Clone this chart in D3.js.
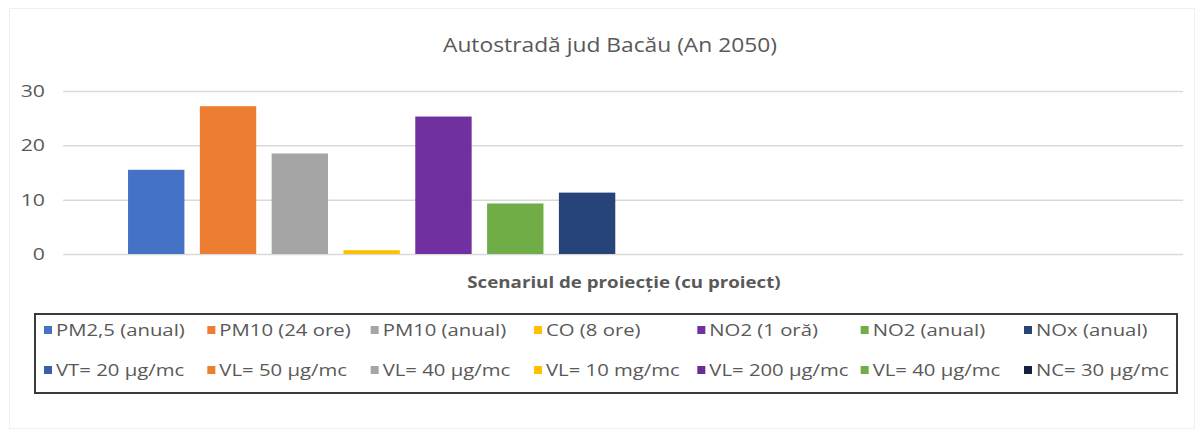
<!DOCTYPE html>
<html>
<head>
<meta charset="utf-8">
<script src="https://cdn.jsdelivr.net/npm/d3@7"></script>
<style>
    body { margin: 0; background: #fff; }
    text { font-family: "Open Sans", sans-serif; fill: #595959; }
</style>
</head>
<body>
<div id="chart"></div>
<script>
// date
var title = 'Autostradă jud  Bacău (An 2050)';
var categories = ['Scenariul de proiecție (cu proiect)'];
var pollutants = ['PM2,5 (anual)', 'PM10 (24 ore)', 'PM10 (anual)', 'CO (8 ore)', 'NO2 (1 oră)', 'NO2 (anual)', 'NOx (anual)'];
var limits = ['VT= 20 µg/mc', 'VL= 50 µg/mc', 'VL= 40 µg/mc', 'VL= 10 mg/mc', 'VL= 200 µg/mc', 'VL= 40 µg/mc', 'NC= 30 µg/mc'];
var pollutantValues = [15.5, 27.2, 18.5, 0.7, 25.3, 9.3, 11.3];
var limitValues = [null, null, null, null, null, null, null]; // fara bare in grafic
var yTicks = [0, 10, 20, 30];

var pollutantColors = ['#4472c4', '#ed7d31', '#a5a5a5', '#ffc000', '#7030a0', '#70ad47', '#264478'];
var limitColors = ['#3b5eab', '#ed7d31', '#a5a5a5', '#ffc000', '#6a2c96', '#70ad47', '#14213d'];

var width = 1201, height = 445;
var margin = { top: 91, left: 63, right: 18, bottom: 191 };
var stretch = 1.25; // textul din original e latit pe orizontala

var svg = d3.select('#chart')
            .append('svg')
            .attr('width', width)
            .attr('height', height)
            .attr('viewBox', [0, 0, width, height]);

// chenar foarte slab al zonei graficului
svg.append('rect')
    .attr('x', 9.5).attr('y', 8.5)
    .attr('width', 1185).attr('height', 420)
    .attr('fill', 'none')
    .attr('stroke', '#f0f0f0');

// serii: 7 poluanti + 7 valori limita
var series = pollutants.map(function (p, i) {
    return { name: p, value: pollutantValues[i], color: pollutantColors[i] };
}).concat(limits.map(function (l, i) {
    return { name: l, value: limitValues[i], color: limitColors[i] };
}));

var x0 = d3.scaleBand()
    .domain(categories)
    .range([margin.left, width - margin.right])
    .paddingInner(0)
    .paddingOuter(0.06);

var x1 = d3.scaleBand()
    .domain(d3.range(series.length))
    .range([0, x0.bandwidth()])
    .paddingInner(0.215)
    .paddingOuter(0.07);

var y = d3.scaleLinear()
    .domain([0, 30])
    .range([height - margin.bottom, margin.top]);

/*=========GRID============*/
svg.append('g')
    .selectAll('line')
    .data(yTicks)
    .enter()
    .append('line')
    .attr('x1', margin.left)
    .attr('x2', width - margin.right)
    .attr('y1', function (d) { return y(d) + 0.5; })
    .attr('y2', function (d) { return y(d) + 0.5; })
    .attr('stroke', '#d9d9d9')
    .attr('stroke-width', 1.5);

// axa y
var yAxis = svg.append('g')
    .attr('transform', 'translate(' + (margin.left - 18) + ',0)')
    .call(d3.axisLeft(y).tickValues(yTicks).tickSize(0).tickPadding(0));
yAxis.select('.domain').remove();
yAxis.selectAll('text')
    .attr('font-size', 17)
    .attr('transform', 'scale(' + stretch + ',1)')
    .style('fill', '#595959')
    .style('font-family', '"Open Sans", sans-serif');

/*=========BARS============*/
var groups = svg.selectAll('g.cat')
    .data(categories)
    .enter()
    .append('g')
    .attr('class', 'cat')
    .attr('transform', function (d) { return 'translate(' + x0(d) + ',0)'; });

groups.selectAll('rect')
    .data(series.map(function (s, i) { return Object.assign({ idx: i }, s); })
        .filter(function (s) { return s.value != null; }))
    .enter()
    .append('rect')
    .attr('x', function (d) { return x1(d.idx); })
    .attr('width', x1.bandwidth())
    .attr('y', function (d) { return y(d.value); })
    .attr('height', function (d) { return y(0) - y(d.value); })
    .attr('fill', function (d) { return d.color; });

// titlu
svg.append('g')
    .attr('transform', 'translate(610,52) scale(1.14,1)')
    .append('text')
    .attr('text-anchor', 'middle')
    .attr('font-size', 20)
    .text(title);

// titlu axa x
svg.append('g')
    .attr('transform', 'translate(624,288) scale(1.17,1)')
    .append('text')
    .attr('text-anchor', 'middle')
    .attr('font-size', 16)
    .attr('font-weight', 'bold')
    .text(categories[0]);

/*=========LEGEND============*/
var legend = svg.append('g');
legend.append('rect')
    .attr('x', 35)
    .attr('y', 314)
    .attr('width', 1142)
    .attr('height', 79)
    .attr('fill', '#fff')
    .attr('stroke', '#3a3a3a')
    .attr('stroke-width', 2);

var colX = d3.scalePoint()
    .domain(d3.range(7))
    .range([44, 1024]);
var rowY = [330, 370];

var items = legend.selectAll('g.item')
    .data(series)
    .enter()
    .append('g')
    .attr('class', 'item')
    .attr('transform', function (d, i) {
        return 'translate(' + colX(i % 7) + ',' + rowY[Math.floor(i / 7)] + ')';
    });

items.append('rect')
    .attr('x', 0)
    .attr('y', -4)
    .attr('width', 8)
    .attr('height', 8)
    .attr('fill', function (d) { return d.color; });

items.append('text')
    .attr('transform', 'translate(12,0) scale(1.27,1)')
    .attr('dy', '0.35em')
    .attr('font-size', 16)
    .text(function (d) { return d.name; });
</script>
</body>
</html>
